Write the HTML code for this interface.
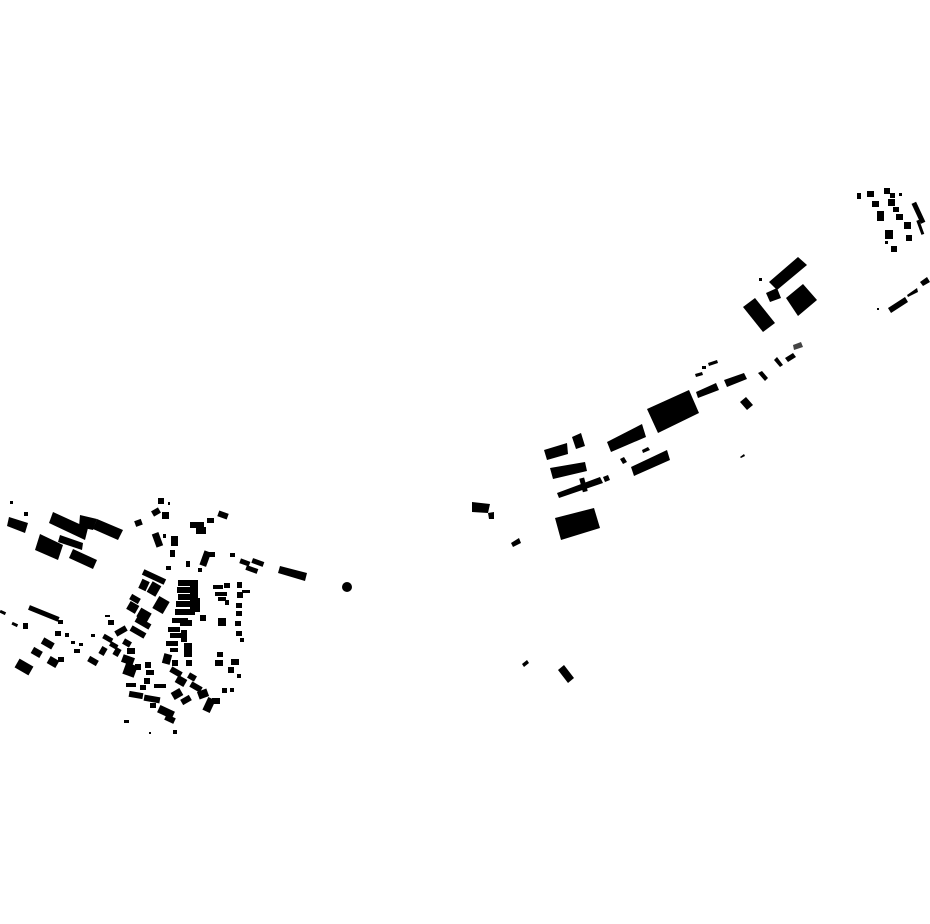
<!DOCTYPE html>
<html><head><meta charset="utf-8"><style>html,body{margin:0;padding:0;background:#fff}svg{display:block}</style></head>
<body>
<svg width="930" height="924" viewBox="0 0 930 924" xmlns="http://www.w3.org/2000/svg">
<g fill="#000">
<!-- right corridor -->
<polygon points="647,409 689,390 699,413 658,433"/>
<polygon points="607,442 642,424 646,437 611,452"/>
<polygon points="544,450 567,443 568,454 547,460"/>
<polygon points="572,437 581,433 585,446 576,449"/>
<polygon points="550,468 585,462 587,471 553,479"/>
<polygon points="557,493 600,477 603,483 559,498"/>
<rect x="581" y="478" width="5" height="14" transform="rotate(-15 583 485)"/>
<polygon points="603,477 608,475 610,480 605,482"/>
<polygon points="631,467 667,450 670,460 634,476"/>
<polygon points="620,459 624,457 627,462 623,464"/>
<polygon points="642,450 648,447 650,450 643,453"/>
<polygon points="555,518 594,508 600,528 561,540"/>
<polygon points="472,502 490,504 488,513 472,512"/>
<polygon points="488,513 494,512 494,519 489,519"/>
<polygon points="511,543 519,538 521,543 513,547"/>
<polygon points="696,392 716,383 719,390 698,398"/>
<polygon points="724,380 744,373 747,379 727,387"/>
<polygon points="740,402 746,397 753,405 747,410"/>
<polygon points="758,373 762,371 768,378 765,381"/>
<polygon points="774,360 777,357 783,365 780,367"/>
<polygon points="785,358 793,353 796,357 788,362"/>
<polygon points="793,345 801,342 803,347 794,350" fill="#444"/>
<polygon points="695,374 702,372 703,375 696,377"/>
<polygon points="708,363 717,360 718,363 709,366"/>
<rect x="702" y="366" width="4" height="3"/>
<polygon points="740,457 744,454 745,456 741,458"/>
<polygon points="769,282 798,257 807,265 777,290"/>
<polygon points="743,307 755,298 775,323 763,332"/>
<polygon points="786,298 803,284 817,300 798,316"/>
<polygon points="766,293 777,288 781,298 770,302"/>
<rect x="759" y="278" width="3" height="3"/>
<polygon points="888,308 905,297 908,302 891,313"/>
<polygon points="907,295 917,288 918,292 908,297"/>
<polygon points="920,282 927,277 930,282 923,286"/>
<rect x="877" y="308" width="2" height="2"/>
<polygon points="522,664 527,660 529,663 524,667"/>
<polygon points="558,670 564,665 574,678 568,683"/>
<circle cx="347" cy="587" r="5"/>
<!-- upper right cluster -->
<rect x="857" y="193" width="4" height="6"/>
<rect x="867" y="191" width="7" height="6"/>
<rect x="884" y="188" width="6" height="6"/>
<rect x="890" y="193" width="5" height="5"/>
<rect x="899" y="193" width="3" height="3"/>
<rect x="872" y="201" width="7" height="6"/>
<rect x="888" y="199" width="7" height="7"/>
<rect x="877" y="211" width="7" height="10"/>
<rect x="893" y="207" width="6" height="5"/>
<rect x="896" y="214" width="7" height="6"/>
<rect x="916" y="202" width="5" height="22" transform="rotate(-25 918 213)"/>
<rect x="904" y="222" width="7" height="7"/>
<rect x="919" y="220" width="3" height="15" transform="rotate(-20 920 228)"/>
<rect x="885" y="230" width="8" height="9"/>
<rect x="906" y="235" width="6" height="6"/>
<rect x="885" y="241" width="3" height="3"/>
<rect x="891" y="246" width="6" height="6"/>
<!-- left far group -->
<polygon points="9,517 28,523 25,533 7,526"/>
<rect x="10" y="501" width="3" height="3"/>
<rect x="24" y="512" width="4" height="4"/>
<polygon points="53,512 88,528 85,540 49,523"/>
<polygon points="97,519 123,530 118,540 93,529"/>
<polygon points="80,515 97,519 93,530 79,527"/>
<polygon points="40,534 63,545 58,560 35,550"/>
<polygon points="60,535 83,543 82,550 58,542"/>
<polygon points="73,549 97,560 93,569 69,558"/>
<rect x="135" y="520" width="7" height="6" transform="rotate(-20 138 523)"/>
<rect x="28" y="611" width="32" height="5" transform="rotate(22 44 613)"/>
<rect x="12" y="623" width="6" height="3" transform="rotate(25 15 624)"/>
<rect x="0" y="611" width="6" height="3" transform="rotate(25 3 612)"/>
<rect x="23" y="623" width="5" height="6"/>
<rect x="58" y="620" width="5" height="4"/>
<rect x="42" y="640" width="12" height="7" transform="rotate(30 48 643)"/>
<rect x="32" y="649" width="10" height="7" transform="rotate(30 37 652)"/>
<rect x="16" y="662" width="16" height="10" transform="rotate(30 24 667)"/>
<rect x="48" y="658" width="10" height="8" transform="rotate(30 53 662)"/>
<rect x="58" y="657" width="6" height="5"/>
<rect x="55" y="631" width="6" height="5"/>
<rect x="65" y="633" width="4" height="4"/>
<rect x="71" y="641" width="4" height="3"/>
<rect x="79" y="643" width="4" height="3"/>
<rect x="74" y="649" width="6" height="4"/>
<rect x="88" y="658" width="10" height="6" transform="rotate(30 93 661)"/>
<rect x="91" y="634" width="4" height="3"/>
<rect x="105" y="615" width="5" height="2"/>
<!-- top of village -->
<rect x="158" y="498" width="6" height="6"/>
<rect x="152" y="509" width="8" height="6" transform="rotate(-30 156 512)"/>
<rect x="162" y="512" width="7" height="7"/>
<rect x="168" y="502" width="2" height="3"/>
<rect x="190" y="522" width="14" height="6"/>
<rect x="196" y="527" width="10" height="7"/>
<rect x="207" y="518" width="7" height="5"/>
<rect x="218" y="512" width="10" height="6" transform="rotate(20 223 515)"/>
<rect x="154" y="533" width="7" height="14" transform="rotate(-20 157 540)"/>
<rect x="163" y="534" width="3" height="4"/>
<rect x="171" y="536" width="7" height="10"/>
<rect x="170" y="550" width="5" height="7"/>
<rect x="202" y="551" width="7" height="15" transform="rotate(20 205 558)"/>
<rect x="209" y="552" width="6" height="5"/>
<rect x="186" y="561" width="4" height="6"/>
<rect x="198" y="568" width="4" height="4"/>
<rect x="166" y="566" width="5" height="4"/>
<rect x="230" y="553" width="5" height="4"/>
<rect x="240" y="560" width="10" height="5" transform="rotate(20 245 562)"/>
<rect x="252" y="560" width="12" height="5" transform="rotate(20 258 562)"/>
<rect x="246" y="567" width="12" height="5" transform="rotate(20 252 569)"/>
<polygon points="280,566 307,573 305,581 278,573"/>
<!-- dense village -->
<rect x="142" y="574" width="24" height="6" transform="rotate(25 154 577)"/>
<rect x="140" y="580" width="8" height="10" transform="rotate(25 144 585)"/>
<rect x="149" y="583" width="10" height="12" transform="rotate(30 154 589)"/>
<rect x="155" y="598" width="12" height="14" transform="rotate(30 161 605)"/>
<rect x="130" y="596" width="10" height="6" transform="rotate(30 135 599)"/>
<rect x="128" y="603" width="10" height="9" transform="rotate(30 133 607)"/>
<rect x="138" y="610" width="12" height="10" transform="rotate(30 144 615)"/>
<rect x="135" y="620" width="16" height="6" transform="rotate(30 143 623)"/>
<rect x="130" y="629" width="16" height="6" transform="rotate(30 138 632)"/>
<rect x="115" y="628" width="12" height="6" transform="rotate(-30 121 631)"/>
<rect x="108" y="620" width="6" height="5"/>
<rect x="103" y="636" width="10" height="5" transform="rotate(30 108 638)"/>
<rect x="110" y="643" width="8" height="5" transform="rotate(30 114 645)"/>
<rect x="100" y="647" width="6" height="8" transform="rotate(30 103 651)"/>
<rect x="114" y="648" width="6" height="8" transform="rotate(30 117 652)"/>
<rect x="123" y="640" width="8" height="6" transform="rotate(30 127 643)"/>
<rect x="127" y="648" width="8" height="6"/>
<rect x="122" y="656" width="12" height="8" transform="rotate(20 128 660)"/>
<rect x="124" y="664" width="12" height="12" transform="rotate(20 130 670)"/>
<rect x="135" y="664" width="6" height="6"/>
<rect x="145" y="662" width="6" height="6"/>
<rect x="146" y="670" width="8" height="5"/>
<rect x="144" y="678" width="6" height="6"/>
<rect x="126" y="683" width="10" height="4"/>
<rect x="140" y="685" width="6" height="5"/>
<rect x="154" y="684" width="12" height="4"/>
<rect x="129" y="692" width="14" height="6" transform="rotate(10 136 695)"/>
<rect x="144" y="696" width="16" height="6" transform="rotate(10 152 699)"/>
<rect x="150" y="703" width="6" height="5"/>
<rect x="158" y="708" width="16" height="8" transform="rotate(25 166 712)"/>
<rect x="165" y="716" width="10" height="6" transform="rotate(25 170 719)"/>
<rect x="124" y="720" width="5" height="3"/>
<rect x="149" y="732" width="2" height="2"/>
<rect x="173" y="730" width="4" height="4"/>
<rect x="178" y="580" width="20" height="6"/>
<rect x="177" y="587" width="18" height="6"/>
<rect x="178" y="594" width="20" height="6"/>
<rect x="176" y="601" width="22" height="6"/>
<rect x="175" y="609" width="20" height="6"/>
<rect x="190" y="584" width="8" height="26"/>
<rect x="194" y="598" width="6" height="14"/>
<rect x="172" y="618" width="16" height="5"/>
<rect x="180" y="620" width="12" height="6"/>
<rect x="168" y="627" width="12" height="5"/>
<rect x="170" y="633" width="14" height="5"/>
<rect x="181" y="630" width="6" height="12"/>
<rect x="166" y="641" width="12" height="5"/>
<rect x="170" y="648" width="8" height="4"/>
<rect x="184" y="643" width="8" height="14"/>
<rect x="163" y="654" width="8" height="10" transform="rotate(15 167 659)"/>
<rect x="172" y="660" width="6" height="6"/>
<rect x="186" y="660" width="6" height="6"/>
<rect x="170" y="669" width="12" height="6" transform="rotate(30 176 672)"/>
<rect x="176" y="677" width="10" height="8" transform="rotate(30 181 681)"/>
<rect x="188" y="674" width="8" height="6" transform="rotate(30 192 677)"/>
<rect x="190" y="684" width="12" height="6" transform="rotate(30 196 687)"/>
<rect x="172" y="690" width="10" height="8" transform="rotate(-30 177 694)"/>
<rect x="181" y="697" width="10" height="6" transform="rotate(-30 186 700)"/>
<rect x="198" y="690" width="10" height="8" transform="rotate(-20 203 694)"/>
<rect x="205" y="698" width="8" height="14" transform="rotate(25 209 705)"/>
<rect x="212" y="698" width="8" height="6"/>
<rect x="200" y="615" width="6" height="6"/>
<rect x="218" y="618" width="8" height="8"/>
<rect x="213" y="585" width="10" height="4"/>
<rect x="224" y="583" width="6" height="5"/>
<rect x="215" y="592" width="12" height="4"/>
<rect x="218" y="597" width="8" height="4"/>
<rect x="225" y="600" width="4" height="5"/>
<rect x="237" y="582" width="5" height="6"/>
<rect x="237" y="592" width="6" height="6"/>
<rect x="242" y="590" width="8" height="3"/>
<rect x="236" y="603" width="6" height="5"/>
<rect x="236" y="611" width="6" height="5"/>
<rect x="235" y="621" width="6" height="5"/>
<rect x="236" y="631" width="6" height="5"/>
<rect x="240" y="638" width="4" height="4"/>
<rect x="217" y="652" width="6" height="5"/>
<rect x="215" y="660" width="8" height="6"/>
<rect x="231" y="659" width="8" height="6"/>
<rect x="228" y="667" width="6" height="6"/>
<rect x="237" y="674" width="4" height="4"/>
<rect x="222" y="688" width="5" height="5"/>
<rect x="230" y="688" width="4" height="4"/>
</g>
</svg>
</body></html>
